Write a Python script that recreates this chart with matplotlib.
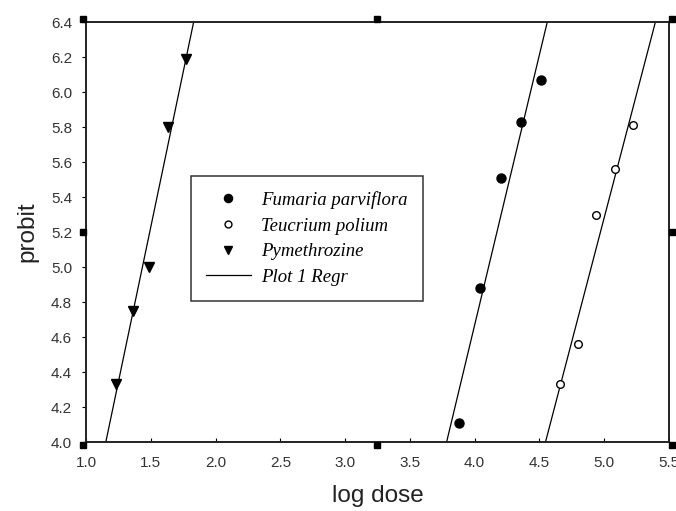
import matplotlib.pyplot as plt
import matplotlib.transforms as mtrans
import numpy as np

# data
fumaria_x = [3.88, 4.04, 4.20, 4.36, 4.51]
fumaria_y = [4.11, 4.88, 5.51, 5.83, 6.07]
teucrium_x = [4.66, 4.80, 4.94, 5.08, 5.22]
teucrium_y = [4.33, 4.56, 5.30, 5.56, 5.81]
pyme_x = [1.23, 1.36, 1.49, 1.63, 1.77]
pyme_y = [4.33, 4.75, 5.00, 5.80, 6.19]
x_ticks = [1.0, 1.5, 2.0, 2.5, 3.0, 3.5, 4.0, 4.5, 5.0, 5.5]
y_ticks = [4.0, 4.2, 4.4, 4.6, 4.8, 5.0, 5.2, 5.4, 5.6, 5.8, 6.0, 6.2, 6.4]

fig = plt.figure(figsize=(6.76, 5.11), dpi=100)
ax = fig.add_axes([0.1272, 0.135, 0.8624, 0.8219])

# regression lines, one per series
xx = np.linspace(0.5, 6.0, 200)
first = True
for xs, ys in [(fumaria_x, fumaria_y), (teucrium_x, teucrium_y), (pyme_x, pyme_y)]:
    k, b = np.polyfit(xs, ys, 1)
    ax.plot(xx, k * xx + b, color='black', lw=0.9,
            label='Plot 1 Regr' if first else None, zorder=2)
    first = False

ax.plot(fumaria_x, fumaria_y, 'o', color='black', ms=6.5, ls='none',
        label='Fumaria parviflora', zorder=3)
ax.plot(teucrium_x, teucrium_y, 'o', mfc='white', mec='black', mew=1.0, ms=5.5,
        ls='none', label='Teucrium polium', zorder=3)
ax.plot(pyme_x, pyme_y, 'v', color='black', ms=7, ls='none',
        label='Pymethrozine', zorder=3)

ax.set_xlim(1.0, 5.5)
ax.set_ylim(4.0, 6.4)
ax.set_xticks(x_ticks)
ax.set_yticks(y_ticks)
ax.set_xticklabels([f'{v:.1f}' for v in x_ticks], family='Liberation Sans')
ax.set_yticklabels([f'{v:.1f}' for v in y_ticks], family='Liberation Sans')
ax.tick_params(axis='x', direction='in', length=3, width=0.8, labelsize=11,
               labelcolor='#333333', pad=10)
ax.tick_params(axis='y', direction='out', length=3, width=0.8, labelsize=11,
               labelcolor='#333333', pad=7)
for s in ax.spines.values():
    s.set_linewidth(1.4)
    s.set_color('#222222')

ax.set_xlabel('log dose', fontsize=17.5, family='Liberation Sans', color='#222222', labelpad=11)
ax.set_ylabel('probit', fontsize=17.5, family='Liberation Sans', color='#222222', labelpad=9)

# selection handles drawn around the frame, nudged slightly outward
hx = [0, 0.5, 1, 1, 1, 0.5, 0, 0]
hy = [1, 1, 1, 0.5, 0, 0, 0, 0.5]
for x0, y0 in zip(hx, hy):
    dx = {0: -3, 0.5: 0, 1: 3}[x0] / 100
    dy = {0: -3, 0.5: 0, 1: 3}[y0] / 100
    tr = ax.transAxes + mtrans.ScaledTranslation(dx, dy, fig.dpi_scale_trans)
    ax.plot([x0], [y0], 's', color='black', ms=4.5, transform=tr,
            clip_on=False, zorder=5)

h, l = ax.get_legend_handles_labels()
order = [1, 2, 3, 0]
leg = ax.legend([h[i] for i in order], [l[i] for i in order],
                loc='upper left', bbox_to_anchor=(0.180, 0.633),
                prop={'family': 'Liberation Serif', 'style': 'italic', 'size': 13.5},
                frameon=True, fancybox=False, edgecolor='black',
                handlelength=2.4, borderpad=0.8, labelspacing=0.45,
                handletextpad=0.55, borderaxespad=0, markerscale=0.9)
leg.get_frame().set_linewidth(1.1)

fig.savefig('out.png', dpi=100)
